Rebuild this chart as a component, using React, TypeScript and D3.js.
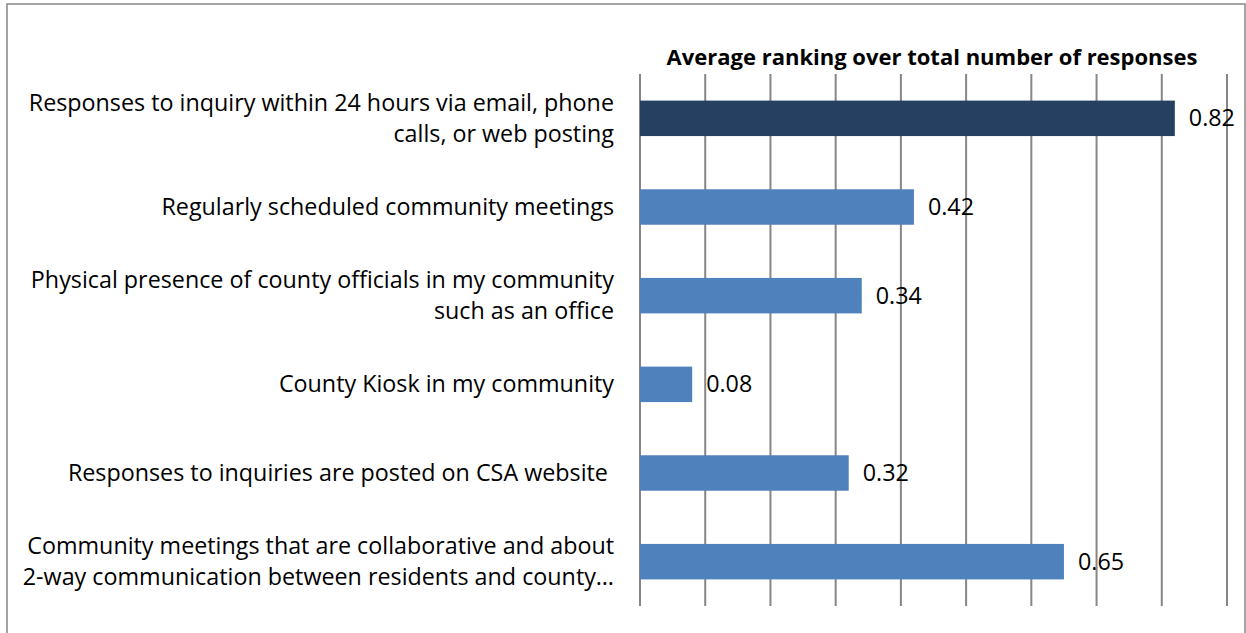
import React from "react";
import * as d3 from "d3";

const categories: string[][] = [
  ["Responses to inquiry within 24 hours via email, phone", "calls, or web posting"],
  ["Regularly scheduled community meetings"],
  ["Physical presence of county officials in my community", "such as an office"],
  ["County Kiosk in my community"],
  ["Responses to inquiries are posted on CSA website "],
  ["Community meetings that are collaborative and about", "2-way communication between residents and county…"],
];
const values = [0.82, 0.42, 0.34, 0.08, 0.32, 0.65];
const labels = ["0.82", "0.42", "0.34", "0.08", "0.32", "0.65"];
const ticks = [0, 0.1, 0.2, 0.3, 0.4, 0.5, 0.6, 0.7, 0.8, 0.9];
const title = "Average ranking over total number of responses";

const W = 1246, H = 633;
const FONT = "'Open Sans', 'Noto Sans', sans-serif";

export default function App() {
  const x = d3.scaleLinear().domain([0, 0.9]).range([640, 1227]);
  const y = d3.scaleBand<number>().domain(d3.range(values.length)).range([74, 606]).paddingInner(0.6).paddingOuter(0.3);
  const lh = 31;
  return (
    <svg width={W} height={H} style={{ position: "absolute", left: 0, top: 0, background: "#fff" }}>
      <rect x={7} y={4} width={W - 8} height={H - 2} fill="#fff" stroke="#868686" strokeWidth={1.5} />
      <text x={932} y={65} textAnchor="middle" fontFamily={FONT} fontWeight="bold" fontSize={22} fill="#000">{title}</text>
      {ticks.map((t, i) => (
        <line key={i} x1={x(t)} x2={x(t)} y1={74} y2={606} stroke="#868686" strokeWidth={2} />
      ))}
      {values.map((v, i) => {
        const by = y(i)!;
        const bh = y.bandwidth();
        const cy = by + bh / 2;
        const lines = categories[i];
        return (
          <g key={i}>
            <rect x={x(0)} y={by} width={x(v) - x(0)} height={bh} fill={i === 0 ? "#264061" : "#4F81BD"} />
            <text x={x(v) + 14} y={cy + 8} fontFamily={FONT} fontSize={23.3} fill="#000">{labels[i]}</text>
            {lines.map((l, j) => (
              <text key={j} x={614} y={cy + 8 + (j - (lines.length - 1) / 2) * lh} textAnchor="end" fontFamily={FONT} fontSize={23.3} fill="#000" style={{ whiteSpace: "pre" }}>{l}</text>
            ))}
          </g>
        );
      })}
    </svg>
  );
}
